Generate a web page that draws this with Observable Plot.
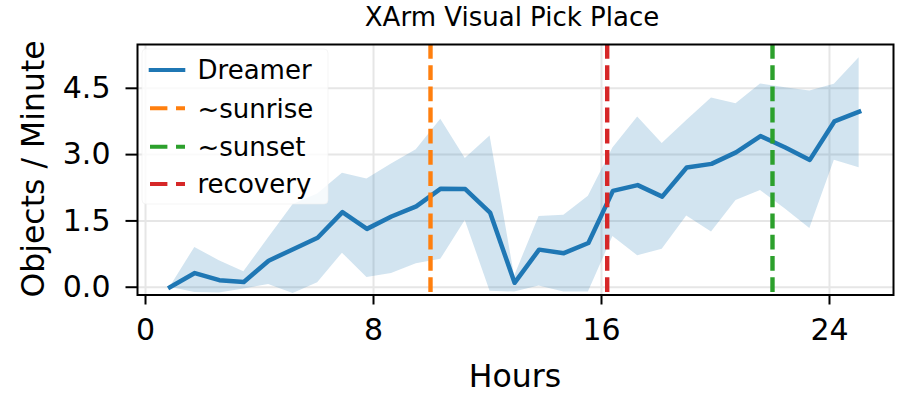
<!DOCTYPE html>
<html><head><meta charset="utf-8">
<script src="https://cdn.jsdelivr.net/npm/d3@7"></script>
<script src="https://cdn.jsdelivr.net/npm/@observablehq/plot@0.6"></script>
<style>
html,body{margin:0;padding:0;background:#fff;}
svg{font-family:"DejaVu Sans",sans-serif;}
</style>
</head><body><div id="chart"></div>
<script>
// ---- data ----
const titleText = "XArm Visual Pick Place";
const xLabel = "Hours";
const yLabel = "Objects / Minute";
const seriesName = "Dreamer";
const hours = [0.86, 1.73, 2.59, 3.45, 4.32, 5.18, 6.04, 6.91, 7.77, 8.63, 9.5, 10.36, 11.22, 12.09, 12.95, 13.81, 14.68, 15.54, 16.4, 17.27, 18.13, 18.99, 19.86, 20.72, 21.58, 22.45, 23.31, 24.17, 25.04];
const meanVals = [0, 0.32, 0.16, 0.12, 0.6, 0.86, 1.12, 1.7, 1.32, 1.6, 1.83, 2.23, 2.22, 1.69, 0.1, 0.85, 0.77, 1.0, 2.18, 2.31, 2.05, 2.71, 2.79, 3.05, 3.42, 3.16, 2.88, 3.75, 3.97];
const lowerVals = [0, -0.12, -0.13, -0.04, 0.06, -0.14, 0.1, 0.77, 0.22, 0.31, 0.53, 0.63, 1.51, -0.09, -0.11, 0.03, -0.11, -0.11, 1.15, 0.71, 0.86, 1.61, 1.25, 1.96, 2.19, 1.77, 1.33, 2.87, 2.7];
const upperVals = [0, 0.9, 0.6, 0.35, 1.12, 1.87, 2.11, 2.58, 2.45, 2.79, 3.11, 3.8, 2.91, 3.42, 0.25, 1.6, 1.63, 2.06, 3.15, 3.85, 3.25, 3.77, 4.28, 4.15, 4.6, 4.51, 4.44, 4.59, 5.19];
const eventLabels = ["~sunrise", "~sunset", "recovery"];
const eventHours = [10, 22, 16.2];
const xTicks = [0, 8, 16, 24];
const yTicks = [0, 1.5, 3.0, 4.5];

// ---- styles ----
const blue = "#1f77b4";
const eventColors = ["#ff7f0e", "#2ca02c", "#d62728"];

const data = hours.map((h, i) => ({h, m: meanVals[i], lo: lowerVals[i], hi: upperVals[i]}));
const events = eventLabels.map((label, i) => ({label, hour: eventHours[i], color: eventColors[i]}));

const plot = Plot.plot({
  width: 919, height: 400,
  marginLeft: 137, marginRight: 26, marginTop: 44, marginBottom: 105.5,
  x: {domain: [-0.281, 26.246]},
  y: {domain: [-0.176, 5.491]},
  color: {type: "identity"},
  style: {fontFamily: "DejaVu Sans, sans-serif", background: "white", color: "black"},
  marks: [
    Plot.gridX(xTicks, {stroke: "#e6e6e6", strokeOpacity: 1, strokeWidth: 2}),
    Plot.gridY(yTicks, {stroke: "#e6e6e6", strokeOpacity: 1, strokeWidth: 2}),
    Plot.areaY(data, {x: "h", y1: "lo", y2: "hi", fill: blue, fillOpacity: 0.2, clip: true}),
    Plot.lineY(data, {x: "h", y: "m", stroke: blue, strokeWidth: 4.5, strokeLinejoin: "round", strokeLinecap: "square"}),
    Plot.ruleX(events, {x: "hour", stroke: "color", strokeWidth: 4.4, strokeDasharray: "14.8,6.4"}),
    Plot.frame({stroke: "black", strokeWidth: 2}),
    Plot.axisX(xTicks, {tickSize: 10, tickPadding: 13.5, fontSize: 30, strokeWidth: 2, label: null, tickFormat: d => String(d)}),
    Plot.axisY(yTicks, {tickSize: 11.5, tickPadding: 15.5, fontSize: 30, strokeWidth: 2, label: null, tickFormat: d => d.toFixed(1)})
  ]
});

document.getElementById("chart").appendChild(plot);
const svg = d3.select(plot);

// title
svg.append("text").attr("transform", `translate(512,26)`)
  .attr("text-anchor", "middle").attr("font-size", 26).attr("fill", "black").text(titleText);
// x label
svg.append("text").attr("transform", `translate(515,387)`)
  .attr("text-anchor", "middle").attr("font-size", 31.5).attr("fill", "black").text(xLabel);
// y label
svg.append("text").attr("transform", `translate(44,169) rotate(-90)`)
  .attr("text-anchor", "middle").attr("font-size", 31.5).attr("fill", "black").text(yLabel);

// legend
const lg = svg.append("g");
lg.append("rect").attr("x", 142).attr("y", 49).attr("width", 186).attr("height", 155).attr("rx", 4)
  .attr("fill", "white").attr("fill-opacity", 0.8).attr("stroke", "#eeeeee").attr("stroke-opacity", 0.6).attr("stroke-width", 1);
const legendItems = [{label: seriesName, color: blue, dash: null}]
  .concat([0, 1, 2].map(i => ({label: eventLabels[i], color: eventColors[i], dash: "17.4,8.6"})));
const rowY = [70, 108.3, 146.7, 184];
legendItems.forEach((it, k) => {
  const y = rowY[k];
  const ln = lg.append("line").attr("y1", y).attr("y2", y).attr("stroke", it.color).attr("stroke-width", 4);
  if (it.dash) ln.attr("x1", 150).attr("x2", 185).attr("stroke-dasharray", it.dash);
  else ln.attr("x1", 150.7).attr("x2", 183.3).attr("stroke-linecap", "square");
  lg.append("text").attr("transform", `translate(197.5,${y + 9.4})`)
    .attr("text-anchor", "start").attr("font-size", 26).attr("fill", "black").text(it.label);
});
</script>
</body></html>
